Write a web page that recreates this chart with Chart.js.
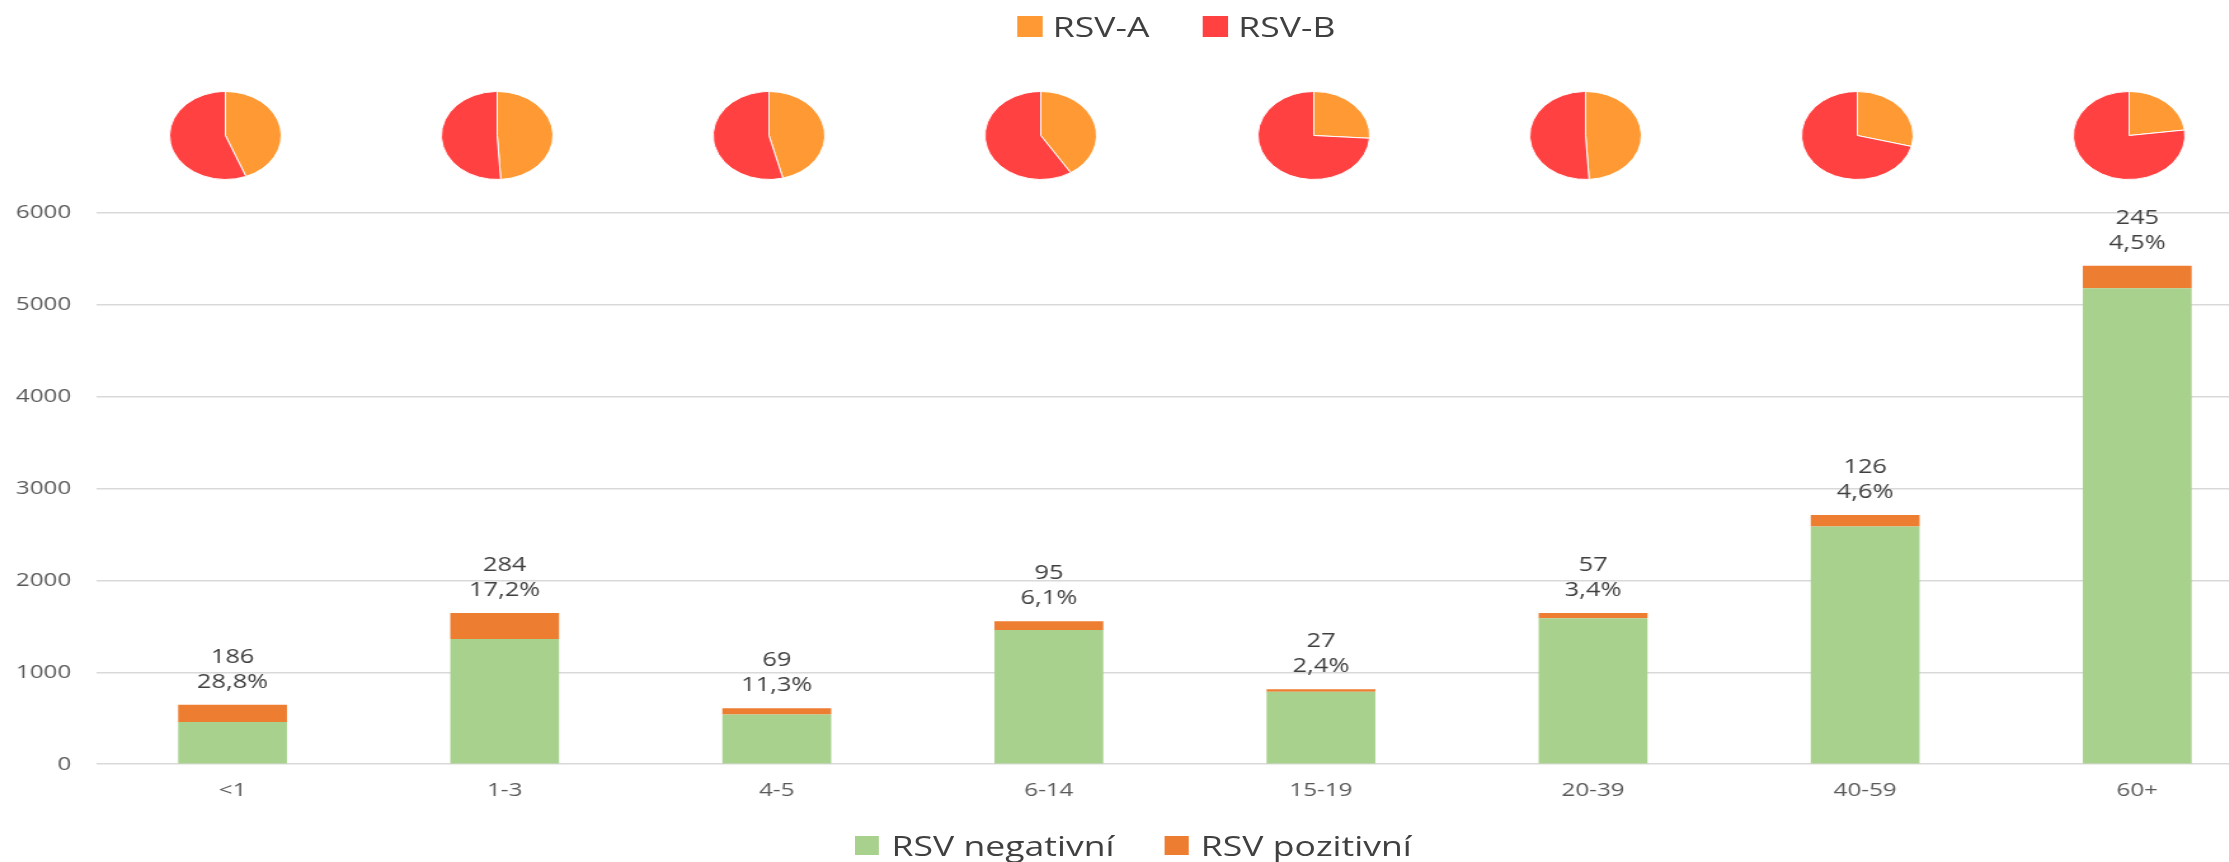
<!DOCTYPE html>
<html>
<head>
<meta charset="utf-8">
<script src="https://cdn.jsdelivr.net/npm/chart.js@4.4.1/dist/chart.umd.min.js"></script>
<style>
  body { margin: 0; overflow: hidden; background: #fff; font-family: 'Open Sans', sans-serif; }
  /* the original picture is stretched sideways, so the whole drawing is too */
  #stage { position: relative; width: 1790px; height: 862px; transform: scaleX(1.27); transform-origin: 0 0; }
  #barBox { position: absolute; left: 0; top: 0; width: 1790px; height: 862px; }
  .pie { position: absolute; top: 91px; width: 89px; height: 89px; }
  .legend { position: absolute; display: flex; align-items: center; height: 40px; line-height: 40px; font-size: 28px; color: #404040; white-space: nowrap; }
  .legend .item { display: flex; align-items: center; }
  .legend .box { display: inline-block; }
  #pieLegend { left: 801px; top: 6px; }
  #pieLegend .box { width: 20px; height: 21px; margin-right: 8px; }
  #pieLegend .item + .item { margin-left: 42px; }
  #barLegend { left: 673px; top: 825px; }
  #barLegend .box { width: 19px; height: 19px; margin-right: 10px; }
  #barLegend .item + .item { margin-left: 39px; }
</style>
</head>
<body>
<div id="stage">
  <div id="pieLegend" class="legend"></div>
  <div id="barBox"><canvas id="barChart" width="1790" height="862"></canvas></div>
  <div id="barLegend" class="legend"></div>
</div>

<script>
// age groups and test counts
const ageGroups = ['<1', '1-3', '4-5', '6-14', '15-19', '20-39', '40-59', '60+'];
const rsvNegative = [460, 1362, 540, 1460, 790, 1590, 2587, 5180];
const rsvPositive = [186, 284, 69, 95, 27, 57, 126, 245];
const positivePct = ['28,8%', '17,2%', '11,3%', '6,1%', '2,4%', '3,4%', '4,6%', '4,5%'];

// share of RSV-A / RSV-B among positives (%)
const rsvA = [44, 49, 46, 41, 26, 49, 29, 23];
const rsvB = [56, 51, 54, 59, 74, 51, 71, 77];

const yMax = 6000;
const yStep = 1000;

const barLabels = ['RSV negativní', 'RSV pozitivní'];
const barColors = ['#A9D18E', '#ED7D31'];
const pieLabels = ['RSV-A', 'RSV-B'];
const pieColors = ['#FF9933', '#FF4141'];

Chart.defaults.font.family = "'Open Sans', sans-serif";
Chart.defaults.font.size = 19;
Chart.defaults.color = '#595959';

// html legends
function buildLegend(el, labels, colors) {
  labels.forEach((text, i) => {
    let item = document.createElement('div');
    item.className = 'item';
    let box = document.createElement('span');
    box.className = 'box';
    box.style.background = colors[i];
    let t = document.createElement('span');
    t.textContent = text;
    item.appendChild(box);
    item.appendChild(t);
    el.appendChild(item);
  });
}
buildLegend(document.getElementById('pieLegend'), pieLabels, pieColors);
buildLegend(document.getElementById('barLegend'), barLabels, barColors);

// count + percent above every bar
const topLabels = {
  id: 'topLabels',
  afterDatasetsDraw(chart) {
    const ctx = chart.ctx;
    const meta = chart.getDatasetMeta(1);
    ctx.save();
    ctx.font = "20px 'Open Sans'";
    ctx.fillStyle = '#404040';
    ctx.textAlign = 'center';
    ctx.textBaseline = 'middle';
    meta.data.forEach((bar, i) => {
      ctx.fillText(String(rsvPositive[i]), bar.x, bar.y - 48);
      ctx.fillText(positivePct[i], bar.x, bar.y - 23);
    });
    ctx.restore();
  }
};

const barChart = new Chart(document.getElementById('barChart'), {
  type: 'bar',
  data: {
    labels: ageGroups,
    datasets: [
      { label: barLabels[0], data: rsvNegative, backgroundColor: barColors[0] },
      { label: barLabels[1], data: rsvPositive, backgroundColor: barColors[1] }
    ]
  },
  plugins: [topLabels],
  options: {
    responsive: false,
    animation: false,
    devicePixelRatio: 1,
    layout: { padding: { top: 213, bottom: 53, left: 0, right: 0 } },
    datasets: { bar: { categoryPercentage: 0.4, barPercentage: 1 } },
    plugins: { legend: { display: false }, tooltip: { enabled: false } },
    scales: {
      x: {
        stacked: true,
        grid: { display: false },
        border: { display: false },
        ticks: { padding: 7, color: '#595959' }
      },
      y: {
        stacked: true,
        min: 0,
        max: yMax,
        border: { display: false },
        grid: { color: '#d9d9d9', lineWidth: 1.5, drawTicks: false },
        ticks: { stepSize: yStep, padding: 20, color: '#595959', callback: (v) => String(v) },
        afterFit: (scale) => { scale.width = 76; }
      }
    }
  }
});

// one small pie above each age group, lined up on the bar scale
// (in the original they sit a little left of the bar centres)
const stage = document.getElementById('stage');
const xScale = barChart.scales.x;
ageGroups.forEach((g, i) => {
  let box = document.createElement('div');
  box.className = 'pie';
  box.style.left = (xScale.getPixelForValue(i) - 44.5 - 6) + 'px';
  let cv = document.createElement('canvas');
  cv.width = 89;
  cv.height = 89;
  box.appendChild(cv);
  stage.appendChild(box);
  new Chart(cv, {
    type: 'pie',
    data: {
      labels: pieLabels,
      datasets: [{ data: [rsvA[i], rsvB[i]], backgroundColor: pieColors, borderColor: '#ffffff', borderWidth: 1 }]
    },
    options: {
      responsive: false,
      animation: false,
      devicePixelRatio: 1,
      plugins: { legend: { display: false }, tooltip: { enabled: false } }
    }
  });
});
</script>
</body>
</html>
